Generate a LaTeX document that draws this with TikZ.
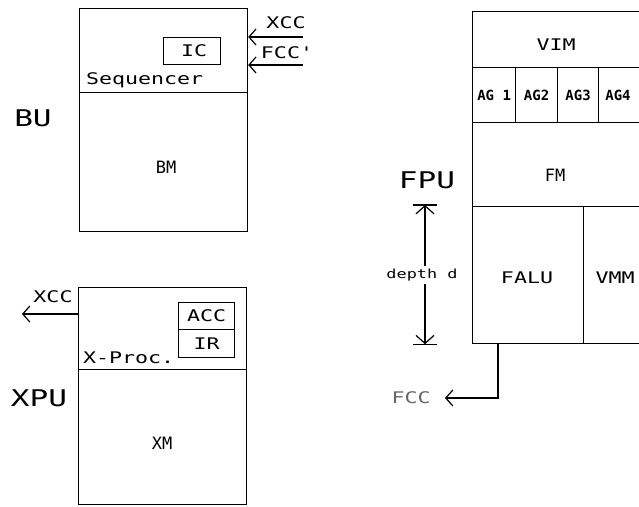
\documentclass[tikz,border=0pt]{standalone}
\usepackage{fontspec}
\newfontfamily\plotfont[FakeStretch=1.35]{DejaVu Sans Mono}
\newfontfamily\plotnarrow{DejaVu Sans Mono}
\usepackage{tikz}
\usetikzlibrary{arrows.meta, positioning, calc}

\tikzset{
  unit/.style={draw, line width=1.2pt, inner sep=0pt, anchor=north west},
  lbl/.style={inner sep=0pt, font=\plotfont\fontsize{16}{16}\selectfont},
  biglbl/.style={inner sep=0pt, font=\plotfont\fontsize{23}{23}\selectfont},
  smalllbl/.style={inner sep=0pt, font=\plotnarrow\fontsize{17}{17}\selectfont},
  aglbl/.style={inner sep=0pt, font=\plotnarrow\bfseries\fontsize{14}{14}\selectfont},
  wire/.style={line width=1.2pt},
  sig/.style={wire, -{Straight Barb[length=7pt,width=16pt]}},
  sigin/.style={wire, {Straight Barb[length=7pt,width=16pt]}-},
}

\begin{document}
\begin{tikzpicture}[x=1pt, y=-1pt]
\useasboundingbox (0,0) rectangle (639,506);

% BU
\node[unit, minimum width=168pt, minimum height=84pt] (seq) at (79,8) {};
\node[unit, minimum width=168pt, minimum height=139pt] (bm) at (79,92) {};
\node[unit, minimum width=57pt, minimum height=27pt] (ic) at (163,37) {};
\node[lbl] at ($(ic)+(2,0)$) {IC};
\node[lbl, anchor=west] (seqname) at (86,80) {Sequencer};
\node[smalllbl] (bmname) at (166,167) {BM};
\node[biglbl] (bu) at (33,118) {BU};

\coordinate (xccin) at (303,37);
\coordinate (fccin) at (303,65);
\draw[sigin] (seq.east |- xccin) -- (xccin);
\draw[sigin] (seq.east |- fccin) -- (fccin);
\node[lbl] (xccb) at (286,23) {XCC};
\node[lbl] (fccb) at (287,53) {FCC'};

% XPU
\node[unit, minimum width=168pt, minimum height=82pt] (xproc) at (78,287) {};
\node[unit, minimum width=168pt, minimum height=135pt] (xm) at (78,369) {};
\node[unit, minimum width=56pt, minimum height=27pt] (acc) at (178,302) {};
\node[unit, minimum width=56pt, minimum height=28pt] (ir) at (178,329) {};
\node[lbl] at (acc) {ACC};
\node[lbl] at (ir) {IR};
\node[lbl, anchor=west] (procname) at (83,358) {X-Proc.};
\node[smalllbl] (xmname) at (162,443) {XM};
\node[biglbl] (xpu) at (39,398) {XPU};

\coordinate (xccout) at (22,314);
\draw[sig] (xproc.west |- xccout) -- (xccout);
\node[lbl] (xccx) at (53,297) {XCC};

% FPU
\node[unit, minimum width=170pt, minimum height=56pt] (vim) at (472,11) {};
\node[unit, minimum width=43pt, minimum height=55pt] (ag1) at (472,67) {};
\node[unit, minimum width=42pt, minimum height=55pt] (ag2) at (515,67) {};
\node[unit, minimum width=41pt, minimum height=55pt] (ag3) at (557,67) {};
\node[unit, minimum width=44pt, minimum height=55pt] (ag4) at (598,67) {};
\node[unit, minimum width=170pt, minimum height=84pt] (fm) at (472,122) {};
\node[unit, minimum width=111pt, minimum height=137pt] (falu) at (472,206) {};
\node[unit, minimum width=59pt, minimum height=137pt] (vmm) at (583,206) {};
\node[lbl] at (556,45) {VIM};
\node[aglbl] at (ag1) {AG 1};
\node[aglbl] at (ag2) {AG2};
\node[aglbl] at (ag3) {AG3};
\node[aglbl] at (618,95) {AG4};
\node[smalllbl] (fmname) at (555,175) {FM};
\node[lbl] (faluname) at (527,278) {FALU};
\node[lbl] (vmmname) at (615,278) {VMM};
\node[biglbl] (fpu) at (427,180) {FPU};

% depth
\coordinate (dtop) at (425,205);
\coordinate (dbot) at (falu.south west -| dtop);
\draw[wire, <->, >={Straight Barb[length=8pt,width=18pt]}] (dtop) -- (dbot);
\draw[wire] ($(dtop)+(-12,0)$) -- ($(dtop)+(12,0)$);
\draw[wire] ($(dbot)+(-12,0)$) -- ($(dbot)+(12,0)$);
\node[fill=white, inner sep=3pt, font=\plotfont\fontsize{12.5}{12.5}\selectfont] (depth) at (422,275) {depth d};

% FCC out
\coordinate (fccout) at (445,398);
\draw[sig] ($(falu.south west)+(26,0)$) |- (fccout);
\node[lbl, text=black!60] (fccf) at (411,398) {FCC};
\end{tikzpicture}
\end{document}
